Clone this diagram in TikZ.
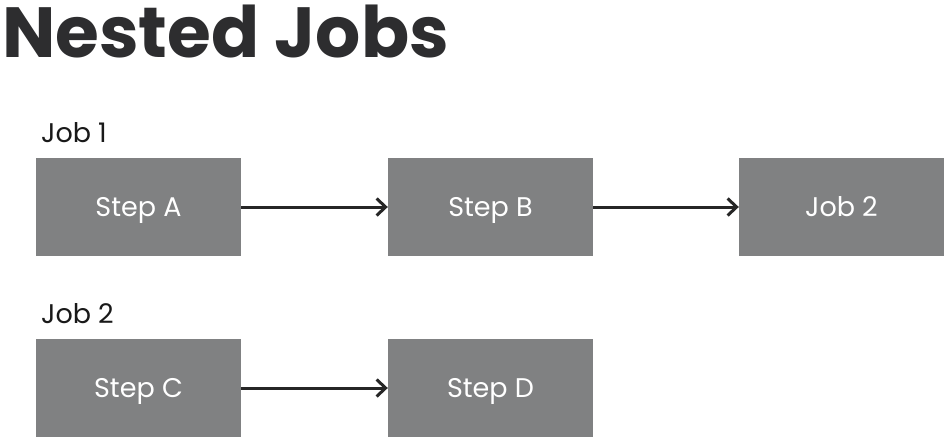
\documentclass[tikz,border=0pt]{standalone}
\usepackage{fontspec}
\setmainfont{Poppins}
\usetikzlibrary{arrows.meta}
\definecolor{boxgray}{RGB}{128,129,130}
\definecolor{titlegray}{RGB}{45,45,47}
\definecolor{labelblack}{RGB}{25,25,25}
\tikzset{
  stepbox/.style={fill=boxgray, draw=none, minimum width=205pt, minimum height=98pt, inner sep=0pt, text height=19pt, text depth=0pt, text=white, font=\fontsize{27}{32}\selectfont},
  joblabel/.style={anchor=base west, inner sep=0pt, text=labelblack, font=\fontsize{27}{32}\selectfont},
  flow/.style={draw=black!85, line width=3pt, -{Straight Barb[length=9pt,width=17pt,line width=3pt]}}
}
\begin{document}
\begin{tikzpicture}[x=1pt,y=-1pt]
\useasboundingbox[fill=white] (0,0) rectangle (952,444);
\node[anchor=base west, inner sep=0pt, text=titlegray, font=\fontsize{71}{80}\selectfont\bfseries] (title) at (2,58) {Nested Jobs};
\node[joblabel] (lab1) at (41,142) {Job 1};
\node[joblabel] (lab2) at (41,323) {Job 2};
\node[stepbox] (a) at (138.5,207) {Step A};
\node[stepbox] (b) at (490.5,207) {Step B};
\node[stepbox] (j2) at (841.5,207) {Job 2};
\node[stepbox] (c) at (138.5,388) {Step C};
\node[stepbox] (d) at (490.5,388) {Step D};
\draw[flow] (a) -- (b);
\draw[flow] (b) -- (j2);
\draw[flow] (c) -- (d);
\end{tikzpicture}
\end{document}
